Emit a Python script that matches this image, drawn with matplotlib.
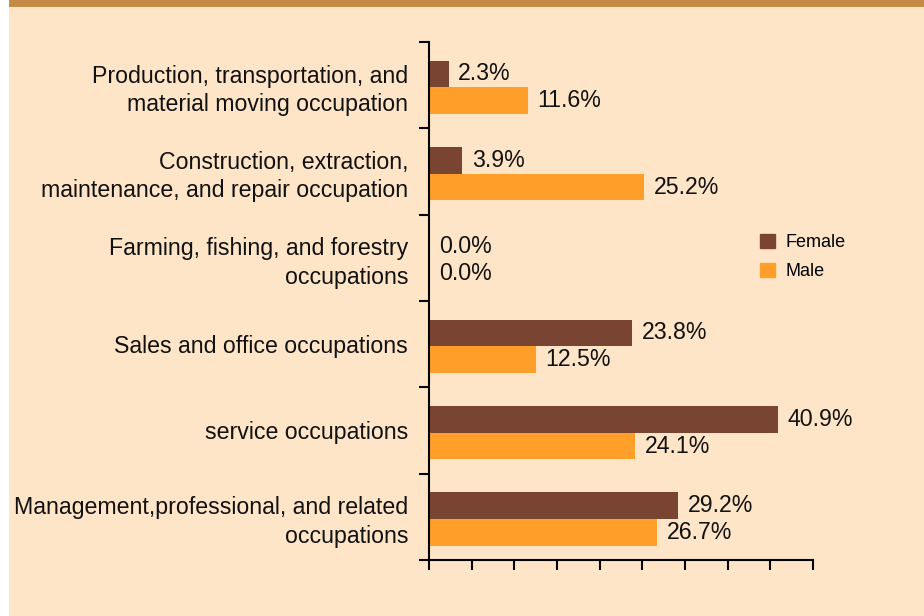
import matplotlib
matplotlib.use('Agg')
import matplotlib.pyplot as plt
from matplotlib.patches import Rectangle, Patch

plt.rcParams['font.family'] = ['Liberation Sans', 'DejaVu Sans']

# data, bottom category first
categories = [
    'Management,professional, and related\noccupations',
    'service occupations',
    'Sales and office occupations',
    'Farming, fishing, and forestry\noccupations',
    'Construction, extraction,\nmaintenance, and repair occupation',
    'Production, transportation, and\nmaterial moving occupation',
]
female = [29.2, 40.9, 23.8, 0.0, 3.9, 2.3]
male = [26.7, 24.1, 12.5, 0.0, 25.2, 11.6]

bg = '#FEE5C7'
female_col = '#7A4433'
male_col = '#FF9E28'

fig = plt.figure(figsize=(9.24, 6.16), dpi=100)
fig.patch.set_facecolor('white')
# cream panel and tan band on top
fig.patches.append(Rectangle((9 / 924, 0), 1, 1, transform=fig.transFigure,
                             facecolor=bg, edgecolor='none', zorder=-2))
fig.patches.append(Rectangle((9 / 924, 1 - 7 / 616), 1, 7 / 616, transform=fig.transFigure,
                             facecolor='#C48B47', edgecolor='none', zorder=-1))

ax = fig.add_axes([429 / 924, 1 - 560 / 616, (813 - 429) / 924, (560 - 42) / 616])
ax.set_facecolor('none')

h = 0.31
shift = -0.025  # bars sit a little below the middle of each band
pos = list(range(len(categories)))
f_pos = [p + shift + h / 2 for p in pos]
m_pos = [p + shift - h / 2 for p in pos]
ax.barh(f_pos, female, height=h, color=female_col, label='Female')
ax.barh(m_pos, male, height=h, color=male_col, label='Male')

for y, v in zip(f_pos, female):
    ax.annotate(f'{v:.1f}%', (v, y), xytext=(7, 0), textcoords='offset points',
                va='center', ha='left', fontsize=16.7, color='#111111')
for y, v in zip(m_pos, male):
    ax.annotate(f'{v:.1f}%', (v, y), xytext=(7, 0), textcoords='offset points',
                va='center', ha='left', fontsize=16.7, color='#111111')

ax.set_xlim(0, 45)
ax.set_ylim(-0.5, len(categories) - 0.5)
ax.set_xticks(range(0, 46, 5))
ax.set_xticklabels([])
ax.set_yticks([p - 0.5 for p in range(len(categories) + 1)])
ax.set_yticklabels([])
ax.set_yticks(pos, minor=True)
ax.set_yticklabels(categories, minor=True, fontsize=16.7, color='#111111',
                   linespacing=1.3)
ax.tick_params(axis='y', which='minor', length=0, pad=15)
ax.tick_params(axis='both', which='major', length=7, width=1.5, direction='out')

for s in ['top', 'right']:
    ax.spines[s].set_visible(False)
for s in ['left', 'bottom']:
    ax.spines[s].set_linewidth(1.5)
    ax.spines[s].set_color('black')

handles = [Patch(color=female_col), Patch(color=male_col)]
fig.legend(handles, ['Female', 'Male'], loc='upper left',
           bbox_to_anchor=(744 / 924, 1 - 218 / 616), frameon=False,
           fontsize=13, handlelength=0.8, handleheight=0.8, handletextpad=0.6,
           labelspacing=0.65)

fig.savefig('out.png', dpi=100, facecolor=fig.get_facecolor())
